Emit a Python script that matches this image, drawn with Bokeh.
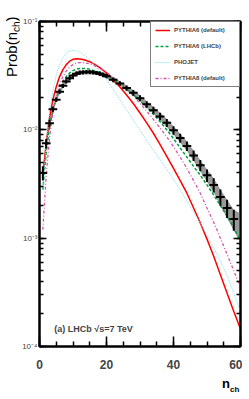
from bokeh.plotting import figure
from bokeh.layouts import row, column
from bokeh.models import (Range1d, LinearAxis, LogAxis, SingleIntervalTicker, LogTicker,
                          CustomJSTickFormatter, Label, Legend, LegendItem, Div)
from bokeh.embed import file_html
from bokeh.resources import INLINE

# ---------------- data ----------------
data_n = list(range(1, 21)) + list(range(22, 59, 2))
data_val = [0.004, 0.0075, 0.0115, 0.0155, 0.019, 0.0225, 0.0255, 0.028, 0.030, 0.0318,
            0.033, 0.0337, 0.034, 0.0342, 0.0342, 0.034, 0.0335, 0.033, 0.0322, 0.0313,
            0.029, 0.0268, 0.0243, 0.022, 0.0196, 0.0172, 0.0152, 0.0133, 0.0116, 0.0099,
            0.0084, 0.0071, 0.0058, 0.0047, 0.0038, 0.0031, 0.0024, 0.0019, 0.0015]
data_err = [0.15, 0.10, 0.08, 0.06, 0.05, 0.05, 0.045, 0.045, 0.045, 0.045,
            0.045, 0.045, 0.045, 0.045, 0.045, 0.045, 0.045, 0.045, 0.045, 0.045,
            0.05, 0.05, 0.055, 0.06, 0.065, 0.07, 0.075, 0.08, 0.085, 0.09,
            0.095, 0.10, 0.11, 0.12, 0.13, 0.15, 0.17, 0.19, 0.22]
band_tail_n = [60]
band_tail_val = [0.0013]
band_tail_err = [0.30]
bin_half = 1.3

model_n = list(range(1, 17)) + list(range(18, 61, 2))
pythia6_default = [0.0036, 0.0075, 0.013, 0.019, 0.025, 0.031, 0.036, 0.040, 0.043, 0.0448,
                   0.0452, 0.0450, 0.0445, 0.0436, 0.0425, 0.041,
                   0.0375, 0.0335, 0.029, 0.0248, 0.0210, 0.0175, 0.0143, 0.0116, 0.0093, 0.0073,
                   0.0057, 0.0044, 0.0034, 0.0026, 0.0019, 0.00138, 0.00098, 0.00068, 0.00046,
                   0.00031, 0.00021, 0.000145]
pythia6_lhcb = [0.0028, 0.0062, 0.0105, 0.0152, 0.0198, 0.024, 0.0278, 0.031, 0.0335, 0.0352,
                0.0363, 0.0368, 0.0369, 0.0367, 0.0362, 0.0354,
                0.0340, 0.0318, 0.0295, 0.0268, 0.0240, 0.0212, 0.0186, 0.0161, 0.0139, 0.0119,
                0.0100, 0.0083, 0.0068, 0.0056, 0.0046, 0.0038, 0.0031, 0.0025, 0.0020,
                0.0016, 0.00125, 0.00095]
phojet = [0.0028, 0.0075, 0.0145, 0.023, 0.032, 0.040, 0.0465, 0.051, 0.0535, 0.0542,
          0.0535, 0.052, 0.0498, 0.0472, 0.0443, 0.0412,
          0.035, 0.0290, 0.0236, 0.0190, 0.0153, 0.0123, 0.0099, 0.0080, 0.0065, 0.0053,
          0.0043, 0.0035, 0.0028, 0.0022, 0.00175, 0.00137, 0.00106, 0.00081, 0.00061,
          0.00045, 0.00031, 0.00021]
pythia8_default = [0.0012, 0.0038, 0.0085, 0.0145, 0.0205, 0.026, 0.031, 0.035, 0.038, 0.040,
                   0.0412, 0.0417, 0.0417, 0.0413, 0.0406, 0.0396,
                   0.0370, 0.0340, 0.0306, 0.0272, 0.0238, 0.0206, 0.0176, 0.0149, 0.0125, 0.0104,
                   0.0086, 0.0070, 0.0056, 0.0044, 0.0034, 0.0026, 0.0019, 0.0014, 0.00100,
                   0.00071, 0.00050, 0.00035]

series_labels = ["PYTHIA6 (default)", "PYTHIA6 (LHCb)", "PHOJET", "PYTHIA8 (default)"]
y_tick_exps = [-4, -3, -2, -1]
y_tick_labels = ["10\u207b\u2074", "10\u207b\u00b3", "10\u207b\u00b2", "10\u207b\u00b9"]
annotation = "(a) LHCb \u221as=7 TeV"
y_title = ("Prob(n", "ch", ")")
x_title = ("n", "ch")

FONT = "Liberation Sans"
LEFT_W = 19
MAIN_W, MAIN_H = 223, 378
BOTTOM_H = 18

p = figure(width=MAIN_W, height=MAIN_H, x_range=Range1d(0, 60), y_range=Range1d(1e-4, 1e-1),
           y_axis_type="log", output_backend="svg", toolbar_location=None,
           min_border_left=17, min_border_right=2, min_border_top=21, min_border_bottom=32)
p.xgrid.visible = False
p.ygrid.visible = False
p.outline_line_color = "black"
p.outline_line_width = 2
p.background_fill_color = "white"
p.border_fill_color = "white"

band_x = data_n + band_tail_n
band_v = data_val + band_tail_val
band_e = data_err + band_tail_err
p.varea(x=band_x, y1=[v * (1 - e) for v, e in zip(band_v, band_e)],
        y2=[v * (1 + e) for v, e in zip(band_v, band_e)], fill_color="#999999")

r1 = p.line(model_n, pythia6_default, line_color="#ff0000", line_width=1.5)
r2 = p.line(model_n, pythia6_lhcb, line_color="#00a040", line_width=1.5, line_dash="3 2")
r3 = p.line(model_n, phojet, line_color="#80dde8", line_width=1, line_dash="1 1")
r4 = p.line(model_n, pythia8_default, line_color="#d455b0", line_width=1.3, line_dash="3 2 1 2")

p.segment(x0=[n - bin_half for n in data_n], x1=[n + bin_half for n in data_n],
          y0=data_val, y1=data_val, line_color="black", line_width=2)
p.segment(x0=data_n, x1=data_n, y0=[v * (1 - e) for v, e in zip(data_val, data_err)],
          y1=[v * (1 + e) for v, e in zip(data_val, data_err)], line_color="black", line_width=2)

blank = CustomJSTickFormatter(code="return '';")


def style_x(ax, labels):
    ax.ticker = SingleIntervalTicker(interval=20, num_minor_ticks=4)
    ax.axis_line_width = 2
    ax.major_tick_in = 10
    ax.major_tick_out = 0
    ax.minor_tick_in = 5
    ax.minor_tick_out = 0
    ax.major_tick_line_width = 1.5
    ax.minor_tick_line_width = 1.5
    ax.major_label_text_font = FONT
    if labels:
        ax.major_label_text_font_style = "bold"
        ax.major_label_text_font_size = "12px"
        ax.major_label_standoff = 13
    else:
        ax.formatter = blank
        ax.major_label_text_font_size = "1px"
        ax.major_label_standoff = 0


def style_y(ax, labels):
    ax.ticker = LogTicker(num_minor_ticks=10)
    ax.axis_line_width = 2
    ax.major_tick_in = 7
    ax.major_tick_out = 0
    ax.minor_tick_in = 4
    ax.minor_tick_out = 0
    ax.major_tick_line_width = 1.5
    ax.minor_tick_line_width = 1.5
    ax.major_label_text_font = FONT
    if labels:
        ax.formatter = CustomJSTickFormatter(args=dict(exps=y_tick_exps, labs=y_tick_labels), code="""
            const e = Math.round(Math.log10(tick));
            const i = exps.indexOf(e);
            return i >= 0 ? labs[i] : "";
        """)
        ax.major_label_text_font_size = "8px"
        ax.major_label_standoff = 2
    else:
        ax.formatter = blank
        ax.major_label_text_font_size = "1px"
        ax.major_label_standoff = 0


style_x(p.xaxis[0], True)
style_y(p.yaxis[0], True)
top = LinearAxis()
style_x(top, False)
p.add_layout(top, "above")
right = LogAxis()
style_y(right, False)
p.add_layout(right, "right")

legend = Legend(items=[LegendItem(label=series_labels[0], renderers=[r1]),
                       LegendItem(label=series_labels[1], renderers=[r2]),
                       LegendItem(label=series_labels[2], renderers=[r3]),
                       LegendItem(label=series_labels[3], renderers=[r4])],
                location="top_right", margin=0, padding=4, spacing=8,
                glyph_width=15, glyph_height=8, label_height=8, label_width=61,
                label_standoff=4, border_line_color="black", border_line_width=1.5,
                background_fill_color="white", background_fill_alpha=1,
                label_text_font=FONT, label_text_font_style="bold",
                label_text_font_size="6px")
p.add_layout(legend)


def ylog(img_y):
    return 10 ** (-1 - (img_y - 21) / 108.33)


def xlin(img_x):
    return (img_x - 36) / 3.4


p.add_layout(Label(x=xlin(51), y=ylog(328), text=annotation, text_font=FONT,
                   text_font_style="bold", text_font_size="9px", text_baseline="alphabetic"))

# y-axis title: rotated HTML text with a real subscript
left_html = (
    '<div style="position:absolute; left:4px; top:77px; transform:rotate(-90deg); '
    'transform-origin:0 0; white-space:nowrap; font-family:\'Liberation Sans\'; '
    'font-size:15px; line-height:15px; color:black;">'
    f'{y_title[0]}<span style="font-size:10px; vertical-align:-3px;">{y_title[1]}</span>{y_title[2]}</div>'
)
left = Div(text=left_html, width=LEFT_W, height=MAIN_H, margin=0,
           styles={"position": "relative", "overflow": "visible"})

bottom_html = (
    '<div style="position:absolute; left:222px; top:-1px; white-space:nowrap; '
    'font-family:\'Liberation Sans\'; font-weight:bold; font-size:13px; line-height:13px; color:black;">'
    f'{x_title[0]}<span style="font-size:8px; vertical-align:-4px;">{x_title[1]}</span></div>'
)
bottom = Div(text=bottom_html, width=LEFT_W + MAIN_W, height=BOTTOM_H, margin=0,
             styles={"position": "relative", "overflow": "visible"})

layout = column(row(left, p, spacing=0), bottom, spacing=0)
open("out.html", "w").write(file_html(layout, INLINE))
